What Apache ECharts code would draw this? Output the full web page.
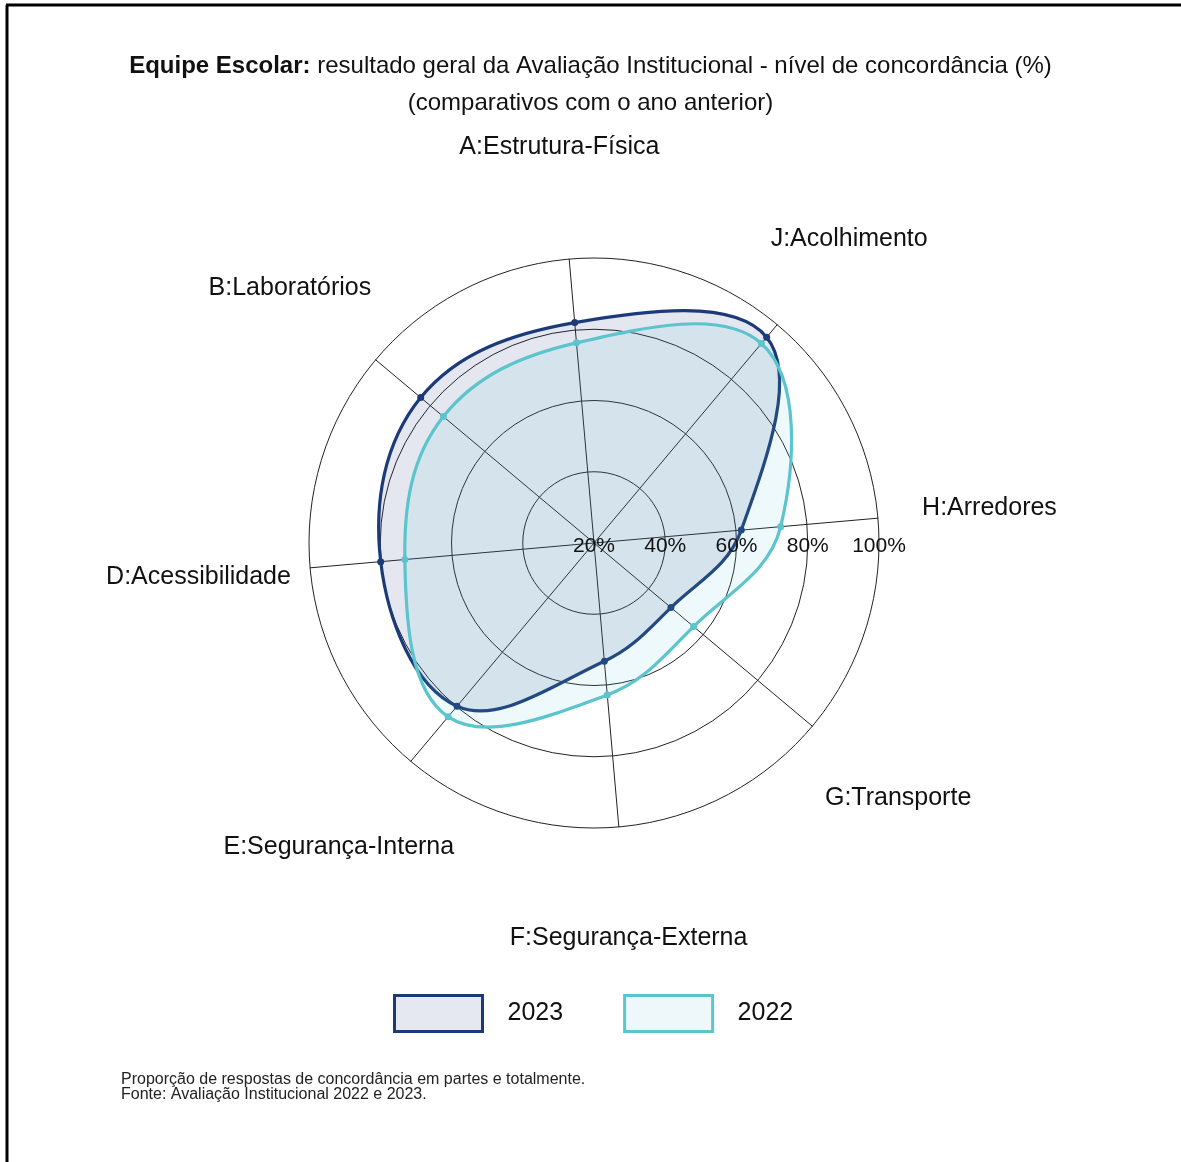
<!DOCTYPE html>
<html>
<head>
<meta charset="utf-8">
<title>Avaliação Institucional</title>
<style>
  html, body { margin: 0; padding: 0; background: #fff; }
  #main { width: 1181px; height: 1162px; }
</style>
<script src="https://cdn.jsdelivr.net/npm/echarts@6/dist/echarts.min.js"></script>
</head>
<body>
<div id="main"></div>
<script>
// eixos do radar (sentido anti-horário a partir do topo)
var categorias = ['A:Estrutura-Física', 'B:Laboratórios', 'D:Acessibilidade', 'E:Segurança-Interna',
  'F:Segurança-Externa', 'G:Transporte', 'H:Arredores', 'J:Acolhimento'];
var anos = ['2023', '2022'];
var valores2023 = [82.1, 83.5, 80.1, 79.8, 53.3, 48.2, 61.5, 95.4];
var valores2022 = [76.4, 75.2, 73.3, 83.7, 62.8, 56.5, 72.6, 93.1];
var escalaMin = 20, escalaMax = 100;

var fonte = 'Liberation Sans, Arial, sans-serif';
var centro = [594, 543];
var raio = 285;
var corNavy = '#1d3a78', corCiano = '#5cc4cd';

var myChart = echarts.init(document.getElementById('main'));

// desenha a área fechada suavizada de uma série
function curva(cor, preenchimento) {
  return function (params, api) {
    if (params.dataIndex !== 0) return null;
    var pts = [];
    for (var i = 0; i < params.dataInsideLength; i++) {
      pts.push(api.coord([api.value(0, i), api.value(1, i)]));
    }
    var filhos = [{
      type: 'polygon',
      shape: { points: pts, smooth: 0.38 },
      style: { fill: preenchimento, stroke: cor, lineWidth: 3.2 }
    }];
    pts.forEach(function (p) {
      filhos.push({ type: 'circle', shape: { cx: p[0], cy: p[1], r: 3.5 }, style: { fill: cor } });
    });
    return { type: 'group', children: filhos };
  };
}

function dados(vals) {
  return vals.map(function (v, i) { return [v, i]; });
}

myChart.setOption({
  animation: false,
  textStyle: { fontFamily: fonte },
  title: [{
    text: '{b|Equipe Escolar:} resultado geral da Avaliação Institucional - nível de concordância (%)\n(comparativos com o ano anterior)',
    left: 'center',
    top: 43,
    padding: [5, 0, 5, 9],
    textStyle: {
      fontFamily: fonte, fontSize: 24, fontWeight: 'normal', color: '#111', lineHeight: 37,
      rich: { b: { fontFamily: fonte, fontSize: 24, fontWeight: 'bold', color: '#111', lineHeight: 37 } }
    }
  }, {
    text: 'Proporção de respostas de concordância em partes e totalmente.\nFonte: Avaliação Institucional 2022 e 2023.',
    left: 116,
    top: 1067,
    textStyle: { fontFamily: fonte, fontSize: 16, fontWeight: 'normal', color: '#222', lineHeight: 15 }
  }],
  legend: {
    top: 989,
    left: 388,
    icon: 'rect',
    itemWidth: 88,
    itemHeight: 36,
    itemGap: 60,
    textStyle: { fontFamily: fonte, fontSize: 25, color: '#111', padding: [0, 0, 0, 20] },
    data: [
      { name: anos[0], itemStyle: { color: '#e5e8f0', borderColor: corNavy, borderWidth: 3 } },
      { name: anos[1], itemStyle: { color: '#eef8fb', borderColor: corCiano, borderWidth: 3 } }
    ]
  },
  radar: [{
    center: centro,
    radius: raio,
    startAngle: 95,
    shape: 'circle',
    splitNumber: 4,
    nameGap: 112,
    indicator: categorias.map(function (c) { return { name: c, min: escalaMin, max: escalaMax }; }),
    axisName: {
      color: '#111', fontSize: 25, fontFamily: fonte, align: 'center', verticalAlign: 'middle',
      padding: [6, 0, 0, 0]
    },
    splitLine: { lineStyle: { color: '#222', width: 1 } },
    splitArea: { show: false },
    axisLine: { lineStyle: { color: '#222', width: 1 } },
    axisTick: { show: false },
    axisLabel: { show: false }
  }, {
    // só para os rótulos da escala, na horizontal
    center: centro,
    radius: raio,
    startAngle: 0,
    z: 5,
    splitNumber: 4,
    indicator: [
      { name: '', min: escalaMin, max: escalaMax, axisLabel: { show: true } },
      { name: '', min: escalaMin, max: escalaMax },
      { name: '', min: escalaMin, max: escalaMax },
      { name: '', min: escalaMin, max: escalaMax }
    ],
    axisName: { show: false },
    splitLine: { show: false },
    splitArea: { show: false },
    axisLine: { show: false },
    axisTick: { show: false },
    axisLabel: {
      show: false, formatter: '{value}%', fontSize: 21, fontFamily: fonte, color: '#111',
      margin: -3, align: 'center', verticalAlign: 'middle'
    }
  }],
  polar: { center: centro, radius: raio },
  angleAxis: {
    type: 'category', data: categorias, boundaryGap: false,
    startAngle: 95, clockwise: false, show: false
  },
  radiusAxis: { min: escalaMin, max: escalaMax, show: false },
  series: [{
    name: anos[0],
    type: 'custom',
    coordinateSystem: 'polar',
    itemStyle: { color: corNavy },
    renderItem: curva(corNavy, 'rgba(29,58,120,0.12)'),
    data: dados(valores2023),
    z: 2
  }, {
    name: anos[1],
    type: 'custom',
    coordinateSystem: 'polar',
    itemStyle: { color: corCiano },
    renderItem: curva(corCiano, 'rgba(92,196,205,0.11)'),
    data: dados(valores2022),
    z: 3
  }],
  graphic: [
    { type: 'line', shape: { x1: 6, y1: 5, x2: 1181, y2: 5 }, style: { stroke: '#000', lineWidth: 3 } },
    { type: 'line', shape: { x1: 7, y1: 5, x2: 7, y2: 1162 }, style: { stroke: '#000', lineWidth: 3 } }
  ]
});
</script>
</body>
</html>
